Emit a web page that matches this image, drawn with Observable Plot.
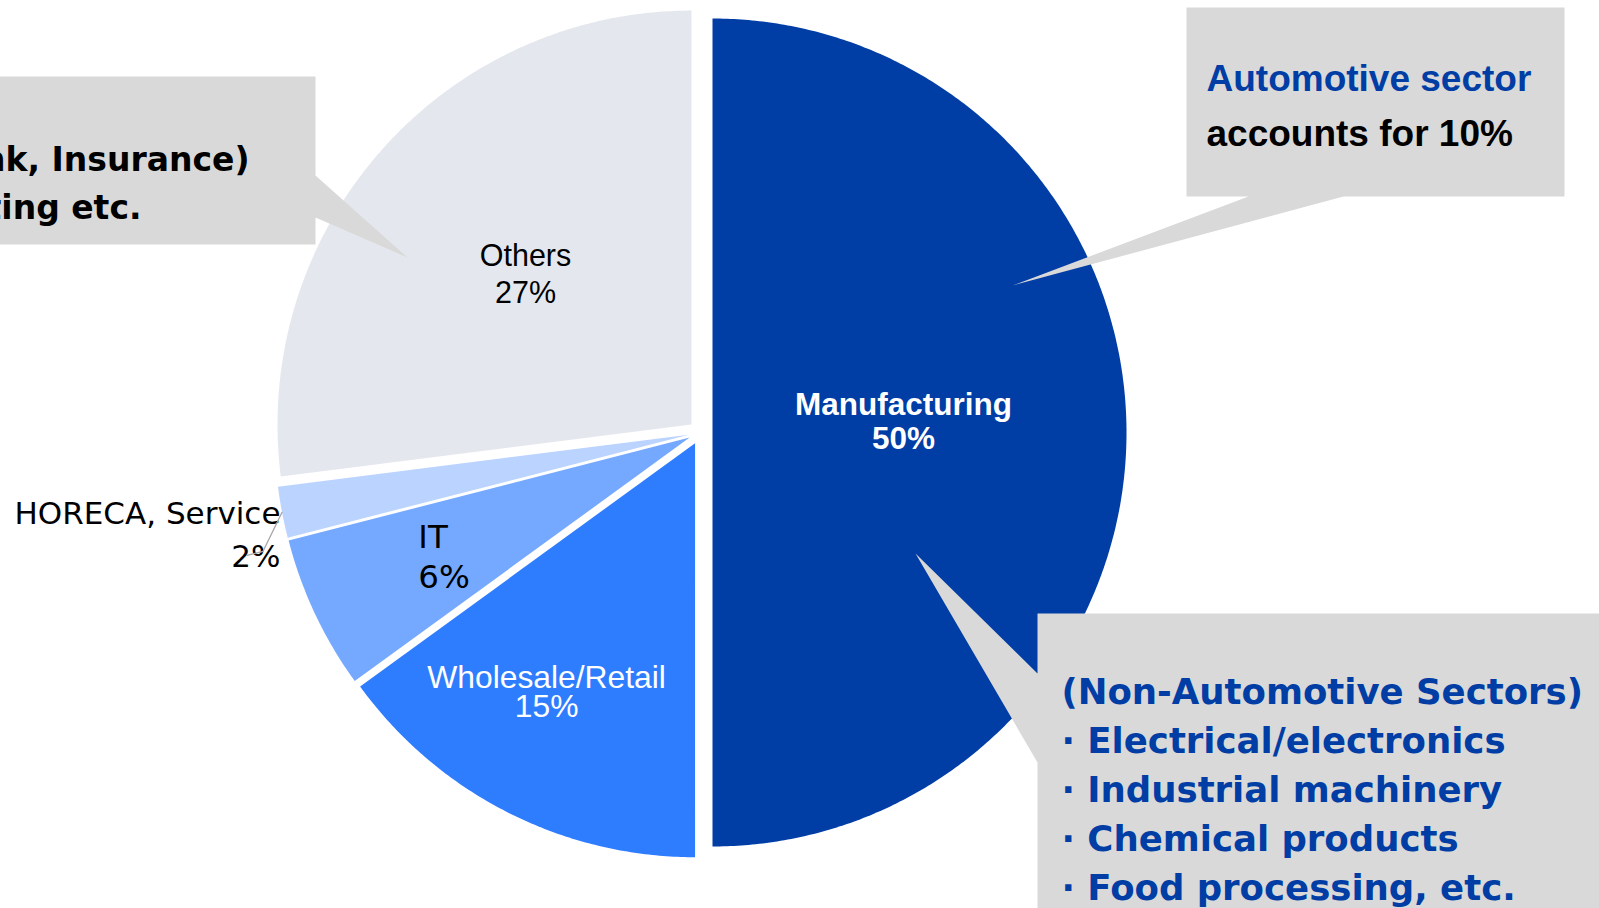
<!DOCTYPE html>
<html>
<head>
<meta charset="utf-8">
<script src="https://cdn.jsdelivr.net/npm/d3@7"></script>
<script src="https://cdn.jsdelivr.net/npm/@observablehq/plot@0.6"></script>
<style>
  html, body { margin: 0; padding: 0; background: #ffffff; overflow: hidden; }
  #chart svg { display: block; }
</style>
</head>
<body>
<div id="chart"></div>
<script>
// ---------------- data ----------------
const categories = ["Manufacturing", "Wholesale/Retail", "IT", "HORECA, Service", "Others"];
const shares = [50, 15, 6, 2, 27];
const sliceColors = ["#003da5", "#2f7dff", "#75a8ff", "#bbd3ff", "#e4e8ee"];

const othersNote = ["Finance (Bank, Insurance)", "Real estate, Consulting etc."];
const autoNoteTitle = "Automotive sector";
const autoNoteText = "accounts for 10%";
const nonAutoTitle = "(Non-Automotive Sectors)";
const nonAutoItems = ["Electrical/electronics", "Industrial machinery", "Chemical products", "Food processing, etc."];

// ---------------- layout ----------------
const W = 1599, H = 908;
const C = {x: 700, y: 432};
const R = 414, EXPLODE = 12;
const BOX = "#d9d9d9", BLUE = "#003da5";
const VERDANA = "'DejaVu Sans', Verdana, sans-serif";
const ARIAL = "'Liberation Sans', Arial, sans-serif";

const polar = (a, rho, ox = 0, oy = 0) => ({x: C.x + ox + rho * Math.sin(a), y: C.y + oy - rho * Math.cos(a)});

const arcs = d3.pie().sort(null).value(d => d)(shares);
const slices = arcs.map((a, i) => {
  const mid = (a.startAngle + a.endAngle) / 2;
  const ox = EXPLODE * Math.sin(mid), oy = -EXPLODE * Math.cos(mid);
  const pts = [polar(0, 0, ox, oy)];
  const n = Math.max(2, Math.ceil((a.endAngle - a.startAngle) / (Math.PI / 360)));
  for (let k = 0; k <= n; ++k) pts.push(polar(a.startAngle + (a.endAngle - a.startAngle) * k / n, R, ox, oy));
  pts.push(pts[0]);
  return {name: categories[i], value: shares[i], color: sliceColors[i], mid, ox, oy, pts};
});

// label placement along each slice's bisector
const labelLayout = {
  "Manufacturing":    {rho: 203,   dx: 0,   dy: -11.6, font: ARIAL,   size: 31.5, weight: "bold",   fill: "#ffffff", lh: 1.08,  anchor: "middle"},
  "Wholesale/Retail": {rho: 292.8, dx: -21, dy: 0,     font: ARIAL,   size: 31.8, weight: "normal", fill: "#ffffff", lh: 0.91,  anchor: "middle"},
  "IT":               {rho: 287.5, dx: -22, dy: 0,     font: VERDANA, size: 32.5, weight: "normal", fill: "#000000", lh: 1.26,  anchor: "start"},
  "HORECA, Service":  {rho: 428.6, dx: 1,   dy: 19.4,  font: VERDANA, size: 31,   weight: "normal", fill: "#000000", lh: 1.387, anchor: "end"},
  "Others":           {rho: 233.3, dx: 0,   dy: -5.4,  font: ARIAL,   size: 30.5, weight: "normal", fill: "#000000", lh: 1.2,   anchor: "middle"}
};

const marks = [];

// pie slices
for (const s of slices) {
  marks.push(Plot.line(s.pts, {x: "x", y: "y", fill: s.color, stroke: "none"}));
}

// callout boxes with pointers (closed polygons)
const leftBox = [{x: -20, y: 76}, {x: 315, y: 76}, {x: 315, y: 175}, {x: 407, y: 257}, {x: 315, y: 217}, {x: 315, y: 244}, {x: -20, y: 244}, {x: -20, y: 76}];
const autoBox = [{x: 1186, y: 7}, {x: 1564, y: 7}, {x: 1564, y: 196}, {x: 1343, y: 196}, {x: 1012, y: 285}, {x: 1248, y: 196}, {x: 1186, y: 196}, {x: 1186, y: 7}];
const nonAutoBox = [{x: 1037, y: 613}, {x: 1620, y: 613}, {x: 1620, y: 930}, {x: 1037, y: 930}, {x: 1037, y: 762}, {x: 915, y: 553}, {x: 1037, y: 673}, {x: 1037, y: 613}];
for (const b of [leftBox, autoBox, nonAutoBox]) {
  marks.push(Plot.line(b, {x: "x", y: "y", fill: BOX, stroke: "none"}));
}

// slice labels
for (const s of slices) {
  const L = labelLayout[s.name];
  const p = polar(s.mid, L.rho);
  marks.push(Plot.text([{x: p.x, y: p.y, t: `${s.name}\n${s.value}%`}], {
    x: "x", y: "y", text: "t", dx: L.dx, dy: L.dy,
    fontFamily: L.font, fontSize: L.size, fontWeight: L.weight, fill: L.fill,
    lineHeight: L.lh, textAnchor: L.anchor, lineAnchor: "middle"
  }));
}

// leader line for the small HORECA slice
const horeca = slices.find(s => s.name === "HORECA, Service");
const h0 = polar(horeca.mid, R, horeca.ox, horeca.oy);
const leader = [h0, {x: h0.x - 19, y: h0.y + 39}, {x: h0.x - 35, y: h0.y + 43}];
marks.push(Plot.line(leader, {x: "x", y: "y", stroke: "#a6a6a6", strokeWidth: 1.3}));

// callout texts
const leftEnds = [249, 141];
marks.push(Plot.text(othersNote.map((t, i) => ({t, x: leftEnds[i], y: 170 + i * 48})), {
  x: "x", y: "y", text: "t", textAnchor: "end", lineAnchor: "bottom",
  fontFamily: VERDANA, fontWeight: "bold", fontSize: 33, fill: "#000000"
}));
marks.push(Plot.text([{t: autoNoteTitle, x: 1206, y: 90.7}], {
  x: "x", y: "y", text: "t", textAnchor: "start", lineAnchor: "bottom",
  fontFamily: ARIAL, fontWeight: "bold", fontSize: 37, fill: BLUE
}));
marks.push(Plot.text([{t: autoNoteText, x: 1206, y: 145}], {
  x: "x", y: "y", text: "t", textAnchor: "start", lineAnchor: "bottom",
  fontFamily: ARIAL, fontWeight: "bold", fontSize: 37, fill: "#000000"
}));
const bodyLines = [nonAutoTitle, ...nonAutoItems.map(t => "· " + t)];
marks.push(Plot.text(bodyLines.map((t, i) => ({t, x: 1061, y: 703 + i * 49})), {
  x: "x", y: "y", text: "t", textAnchor: "start", lineAnchor: "bottom",
  fontFamily: VERDANA, fontWeight: "bold", fontSize: 35.5, fill: BLUE
}));

const chart = Plot.plot({
  width: W, height: H, margin: 0,
  x: {domain: [0, W], range: [0, W], axis: null},
  y: {domain: [0, H], range: [0, H], axis: null},
  style: {background: "#ffffff", overflow: "hidden"},
  marks
});
document.getElementById("chart").appendChild(chart);
</script>
</body>
</html>
